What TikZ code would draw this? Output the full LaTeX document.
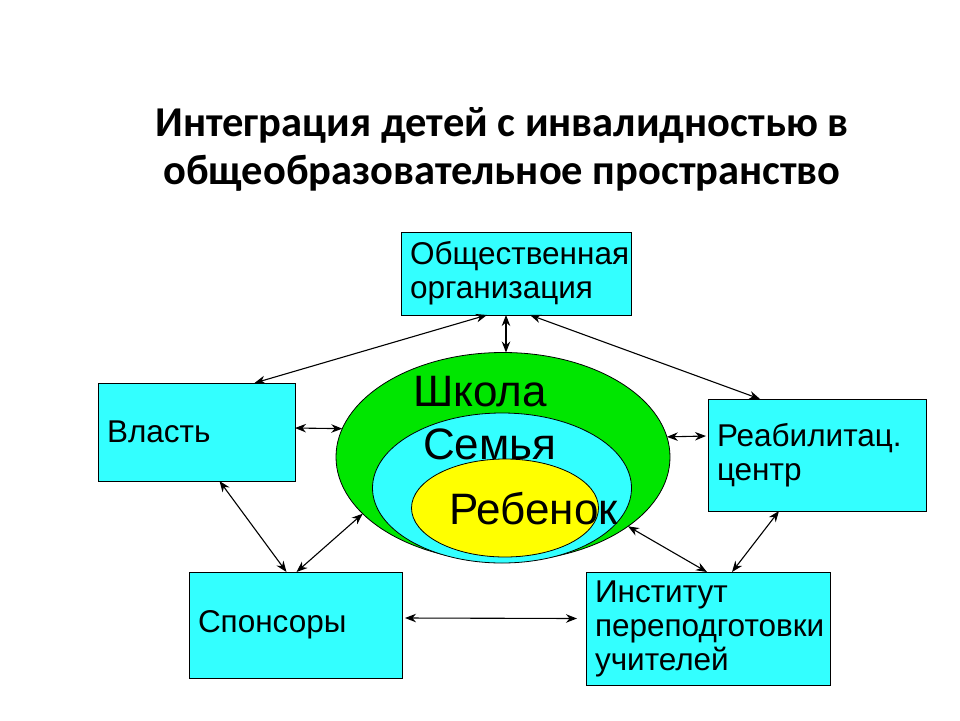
\documentclass[tikz,border=0pt]{standalone}
\usepackage{fontspec}
\setmainfont{Liberation Sans}
\newfontfamily\titlefont{Carlito}
\usetikzlibrary{arrows.meta,calc,positioning,shapes.geometric}
\definecolor{boxcyan}{RGB}{51,255,255}
\definecolor{ringgreen}{RGB}{0,230,0}
\definecolor{ringyellow}{RGB}{255,255,0}
\tikzset{
  box/.style   = {draw, fill=boxcyan, line width=0.8pt, inner xsep=9pt, inner ysep=0pt,
                  outer sep=0pt, align=left, anchor=north west,
                  font=\fontsize{31.5}{34}\selectfont},
  ring/.style  = {ellipse, draw, line width=0.8pt, inner sep=0pt, outer sep=0pt},
  ringtxt/.style = {anchor=base west, inner sep=0pt, font=\fontsize{44}{44}\selectfont},
  arr/.style   = {{Stealth[length=11pt,width=8.5pt]}-{Stealth[length=11pt,width=8.5pt]},
                  line width=1.1pt},
}

\begin{document}
\begin{tikzpicture}[x=1pt,y=-1pt]
  \useasboundingbox (0,0) rectangle (960,720);
  \node[align=center, font=\titlefont\bfseries\fontsize{42.5}{48}\selectfont]
      (title) at (502,149) {Интеграция детей с инвалидностью в\\общеобразовательное пространство};

  % rings
  \node[ring, fill=ringgreen, minimum width=334pt, minimum height=209pt] (school) at (503,457) {};
  \node[ring, fill=boxcyan, minimum width=259pt, minimum height=150pt] (family) at (502,488) {};
  \node[ring, fill=ringyellow, minimum width=187pt, minimum height=98pt] (child) at (505,508) {};
  \node[ringtxt] (schooltxt) at (413,406) {Школа};
  \node[ringtxt] (familytxt) at (423,459) {Семья};
  \node[ringtxt] (childtxt) at (449,524) {Ребенок};

  % boxes
  \node[box, text width=212pt, minimum height=83pt]  (org)   at (401,232) {Общественная\\организация};
  \node[box, text width=179pt, minimum height=98pt]  (power) at (98,383)  {Власть};
  \node[box, text width=200pt, minimum height=112pt] (rehab) at (708,399) {Реабилитац.\\центр};
  \node[box, text width=195pt, minimum height=106pt] (spons) at (189,572) {Спонсоры};
  \node[box, text width=226pt, minimum height=113pt] (inst)  at (586,572) {Институт\\переподготовки\\учителей};

  % links
  \draw[arr] ([xshift=-29pt]org.south) -- ([xshift=58pt]power.north);
  \draw[arr] ([xshift=-10pt]org.south) -- ([xshift=3pt]school.north);
  \draw[arr] ([xshift=14pt]org.south) -- ([xshift=-57pt]rehab.north);
  \draw[arr] ([yshift=4pt]power.east) -- (school.170);
  \draw[arr] ([xshift=-2pt,yshift=19pt]rehab.west) -- (school.7);
  \draw[arr] ([xshift=23pt]power.south) -- ([xshift=-9pt]spons.north);
  \draw[arr] (school.202) -- ([xshift=1pt]spons.north);
  \draw[arr] ([xshift=3pt,yshift=7pt]spons.east) -- ([xshift=-9pt,yshift=10pt]inst.west);
  \draw[arr] (school.-29) -- ([xshift=-1pt]inst.north);
  \draw[arr] ([xshift=-38pt]rehab.south) -- ([xshift=24pt]inst.north);
\end{tikzpicture}
\end{document}
